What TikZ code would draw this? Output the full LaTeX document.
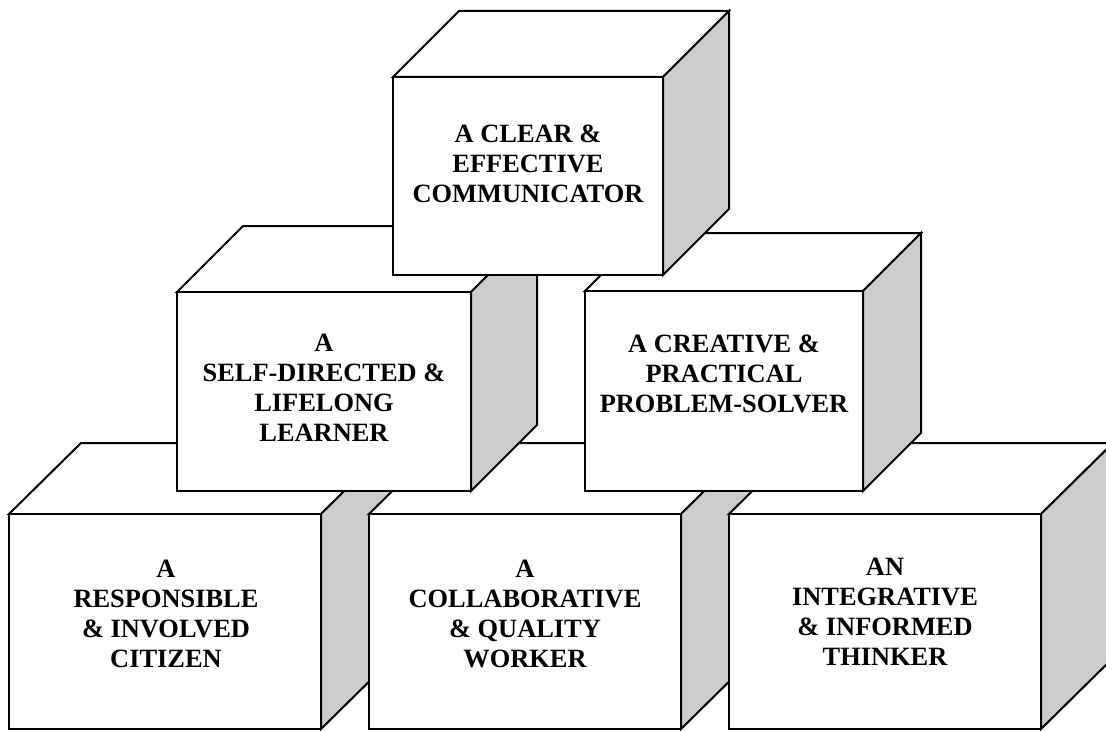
\documentclass[tikz,border=0pt]{standalone}
\usepackage{fontspec}
\setmainfont{Liberation Serif}
\usepackage{xcolor}
\usepackage{tikz}

\definecolor{cubegrey}{RGB}{204,204,204}
\tikzset{
  face/.style={draw, line width=1.5pt, fill=white},
  side/.style={draw, line width=1.5pt, fill=cubegrey},
  cubetext/.style={anchor=center, inner sep=0.75pt, align=center,
    font=\bfseries\fontsize{19.8}{22.5}\selectfont}
}

\begin{document}
\begin{tikzpicture}[x=0.75pt,y=0.75pt,yscale=-1,xscale=1]
\useasboundingbox (0,0) rectangle (1106,731);
\clip (0,0) rectangle (1106,731);

%Cube: bottom left
\draw [face] (9,514) -- (81,443) -- (393,443) -- (321,514) -- cycle ;
\draw [side] (321,514) -- (393,443) -- (393,658) -- (321,729) -- cycle ;
\draw [face] (9,514) -- (321,514) -- (321,729) -- (9,729) -- cycle ;
%Cube: bottom middle
\draw [face] (369,514) -- (441,443) -- (753,443) -- (681,514) -- cycle ;
\draw [side] (681,514) -- (753,443) -- (753,658) -- (681,729) -- cycle ;
\draw [face] (369,514) -- (681,514) -- (681,729) -- (369,729) -- cycle ;
%Cube: bottom right
\draw [face] (729,514) -- (801,443) -- (1113,443) -- (1041,514) -- cycle ;
\draw [side] (1041,514) -- (1113,443) -- (1113,658) -- (1041,729) -- cycle ;
\draw [face] (729,514) -- (1041,514) -- (1041,729) -- (729,729) -- cycle ;

%Cube: middle left
\draw [face] (177,292) -- (243,226) -- (537,226) -- (471,292) -- cycle ;
\draw [side] (471,292) -- (537,226) -- (537,425) -- (471,491) -- cycle ;
\draw [face] (177,292) -- (471,292) -- (471,491) -- (177,491) -- cycle ;
%Cube: middle right
\draw [face] (585,291) -- (643,233) -- (921,233) -- (863,291) -- cycle ;
\draw [side] (863,291) -- (921,233) -- (921,433) -- (863,491) -- cycle ;
\draw [face] (585,291) -- (863,291) -- (863,491) -- (585,491) -- cycle ;

%Cube: top
\draw [face] (393,77) -- (459,11) -- (729,11) -- (663,77) -- cycle ;
\draw [side] (663,77) -- (729,11) -- (729,209) -- (663,275) -- cycle ;
\draw [face] (393,77) -- (663,77) -- (663,275) -- (393,275) -- cycle ;

% Text Node
\node [cubetext] (citizen) at (166,614) {A\\RESPONSIBLE\\\& INVOLVED\\CITIZEN};
% Text Node
\node [cubetext] (worker) at (525,614) {A\\COLLABORATIVE\\\& QUALITY\\WORKER};
% Text Node
\node [cubetext] (thinker) at (885,612) {AN\\INTEGRATIVE\\\& INFORMED\\THINKER};
% Text Node
\node [cubetext] (learner) at (324,388) {A\\SELF-DIRECTED \&\\LIFELONG\\LEARNER};
% Text Node
\node [cubetext] (solver) at (724,374) {A CREATIVE \&\\PRACTICAL\\PROBLEM-SOLVER};
% Text Node
\node [cubetext] (communicator) at (528,164) {A CLEAR \&\\EFFECTIVE\\COMMUNICATOR};

\end{tikzpicture}
\end{document}
